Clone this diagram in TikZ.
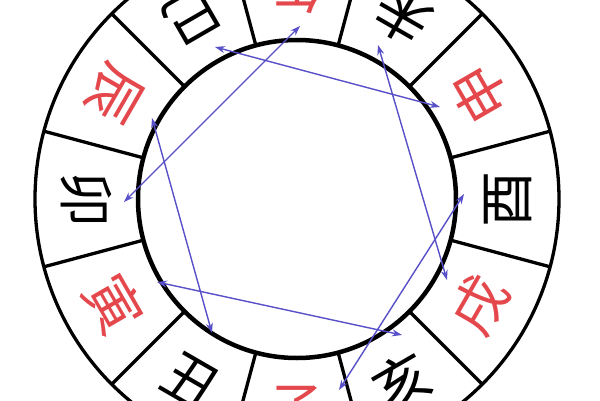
\documentclass[tikz,border=0pt]{standalone}
\usepackage{fontspec}
\newfontfamily\cjk{Noto Sans CJK SC}
\usetikzlibrary{arrows.meta}
\definecolor{zhred}{RGB}{228,72,76}
\definecolor{linkblue}{RGB}{88,80,200}
\begin{document}
\begin{tikzpicture}[x=1pt,y=1pt,
  branch/.style={font=\cjk\fontsize{56}{56}\selectfont, inner sep=0pt, text=black},
  yang/.style={branch, text=zhred},
  ring/.style={line width=3.3pt, draw=black},
  link/.style={draw=linkblue, line width=1.4pt, {Stealth[length=10pt,width=7pt]}-{Stealth[length=10pt,width=7pt]}}]
\useasboundingbox (-297,-201) rectangle (303,199);
\clip (-297,-201) rectangle (303,199);
\fill[white] (-297,-201) rectangle (303,199);
\coordinate (C) at (0,0);
\draw[ring] (C) circle[radius=262pt];
\foreach \a in {15,45,...,345} \draw[ring] (\a:159) -- (\a:262);
\draw[line width=4.5pt] (C) circle[radius=159pt];
% branches
\node[yang, rotate=180] (wu) at (90:211) {午};
\node[branch, rotate=150] (wei) at (60:211) {未};
\node[yang, rotate=120] (shen) at (30:211) {申};
\node[branch, rotate=90] (you) at (0:211) {酉};
\node[yang, rotate=60] (xu) at (330:211) {戌};
\node[branch, rotate=30] (hai) at (300:211) {亥};
\node[yang, rotate=0] (zi) at (270:211) {子};
\node[branch, rotate=-30] (chou) at (240:211) {丑};
\node[yang, rotate=-60] (yin) at (210:211) {寅};
\node[branch, rotate=-90] (mao) at (180:211) {卯};
\node[yang, rotate=-120] (chen) at (150:211) {辰};
\node[branch, rotate=-150] (si) at (120:211) {巳};
% link end points
\coordinate (pSi) at (-82,152);
\coordinate (pShen) at (143,92);
\coordinate (pWu) at (3,173);
\coordinate (pMao) at (-173,-3);
\coordinate (pWei) at (81,154);
\coordinate (pXu) at (150,-81);
\coordinate (pChen) at (-145,81);
\coordinate (pChou) at (-85,-134);
\coordinate (pYin) at (-140,-83);
\coordinate (pHai) at (105,-136);
\coordinate (pYou) at (167,5);
\coordinate (pZi) at (42,-191);
\draw[link] (pSi) -- (pShen);
\draw[link] (pWu) -- (pMao);
\draw[link] (pWei) -- (pXu);
\draw[link] (pChen) -- (pChou);
\draw[link] (pYin) -- (pHai);
\draw[link] (pYou) -- (pZi);
\end{tikzpicture}
\end{document}
